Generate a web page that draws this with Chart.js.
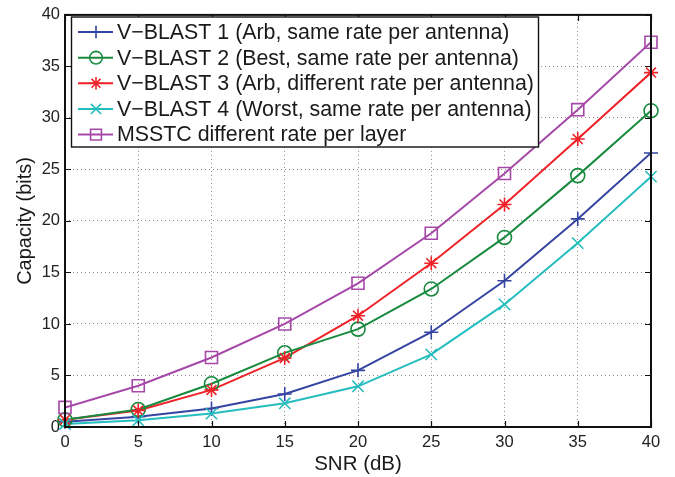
<!DOCTYPE html>
<html><head><meta charset="utf-8">
<script src="https://cdn.jsdelivr.net/npm/chart.js@4.4.1/dist/chart.umd.min.js"></script>
<style>html,body{margin:0;padding:0;background:#fff}canvas{display:block}</style>
</head><body>
<canvas id="c" width="675" height="477"></canvas>
<script>
const snr = [0, 5, 10, 15, 20, 25, 30, 35, 40];
const vblast1 = [0.5, 1.0, 1.8, 3.2, 5.5, 9.2, 14.2, 20.2, 26.6];
const vblast2 = [0.7, 1.7, 4.2, 7.2, 9.5, 13.4, 18.4, 24.4, 30.7];
const vblast3 = [0.7, 1.6, 3.6, 6.7, 10.8, 15.9, 21.6, 27.95, 34.4];
const vblast4 = [0.3, 0.65, 1.3, 2.3, 3.95, 7.05, 11.9, 17.85, 24.3];
const msstc = [1.9, 4.0, 6.75, 10.0, 13.95, 18.8, 24.6, 30.8, 37.35];
const seriesNames = [
  "V\u2212BLAST 1 (Arb, same rate per antenna)",
  "V\u2212BLAST 2 (Best, same rate per antenna)",
  "V\u2212BLAST 3 (Arb, different rate per antenna)",
  "V\u2212BLAST 4 (Worst, same rate per antenna)",
  "MSSTC different rate per layer"
];
const xTickValues = [0, 5, 10, 15, 20, 25, 30, 35, 40];
const yTickValues = [0, 5, 10, 15, 20, 25, 30, 35, 40];

const colors = ['#3444A0', '#178A3E', '#EE2228', '#25BDBE', '#A548A8'];
const styles = ['cross', 'circle', 'star', 'crossRot', 'rect'];
const radii = [7, 7, 7, 8, 8.5];
const seriesValues = [vblast1, vblast2, vblast3, vblast4, msstc];

const FONT = "'Liberation Sans', Arial, Helvetica, sans-serif";

function drawMarker(ctx, style, r, x, y, color) {
  ctx.save();
  ctx.strokeStyle = color; ctx.lineWidth = 1.6;
  ctx.beginPath();
  const d = r * Math.SQRT1_2;
  if (style === 'cross' || style === 'star') {
    ctx.moveTo(x - r, y); ctx.lineTo(x + r, y);
    ctx.moveTo(x, y - r); ctx.lineTo(x, y + r);
  }
  if (style === 'crossRot' || style === 'star') {
    ctx.moveTo(x - d, y - d); ctx.lineTo(x + d, y + d);
    ctx.moveTo(x - d, y + d); ctx.lineTo(x + d, y - d);
  }
  if (style === 'circle') ctx.arc(x, y, r, 0, Math.PI * 2);
  if (style === 'rect') ctx.rect(x - d, y - d, 2 * d, 2 * d);
  ctx.stroke();
  ctx.restore();
}

const framePlugin = {
  id: 'frame',
  afterDraw(chart) {
    const ctx = chart.ctx, a = chart.chartArea;
    const xs = chart.scales.x, ys = chart.scales.y;
    ctx.save();
    ctx.strokeStyle = '#111'; ctx.lineWidth = 1.2;
    const t = 6;
    ctx.beginPath();
    xTickValues.forEach(v => {
      const px = Math.round(xs.getPixelForValue(v)) + 0.5;
      ctx.moveTo(px, a.bottom); ctx.lineTo(px, a.bottom - t);
      ctx.moveTo(px, a.top); ctx.lineTo(px, a.top + t);
    });
    yTickValues.forEach(v => {
      const py = Math.round(ys.getPixelForValue(v)) + 0.5;
      ctx.moveTo(a.left, py); ctx.lineTo(a.left + t, py);
      ctx.moveTo(a.right, py); ctx.lineTo(a.right - t, py);
    });
    ctx.stroke();
    ctx.lineWidth = 2;
    ctx.strokeRect(a.left, a.top, a.right - a.left, a.bottom - a.top);
    // legend
    const lx = 71.5, ly = 17, lw = 467, lh = 130;
    ctx.fillStyle = '#fff';
    ctx.fillRect(lx, ly, lw, lh);
    ctx.lineWidth = 1.4; ctx.strokeStyle = '#111';
    ctx.strokeRect(lx, ly, lw, lh);
    ctx.font = "20px " + FONT;
    let maxW = 0;
    chart.data.datasets.forEach(ds => { maxW = Math.max(maxW, ctx.measureText(ds.label).width); });
    const fs = 20 * 417 / maxW;
    ctx.font = fs.toFixed(2) + "px " + FONT;
    ctx.textBaseline = 'middle';
    chart.data.datasets.forEach((ds, i) => {
      const y = 32 + i * 25.65;
      ctx.strokeStyle = ds.borderColor; ctx.lineWidth = 2;
      ctx.beginPath(); ctx.moveTo(78, y); ctx.lineTo(113, y); ctx.stroke();
      drawMarker(ctx, styles[i], radii[i] * 0.9, 96, y, ds.borderColor);
      ctx.fillStyle = '#1a1a1a';
      ctx.fillText(ds.label, 117, y + 1);
    });
    ctx.restore();
  }
};

const markerPlugin = {
  id: 'markers',
  afterDatasetsDraw(chart) {
    const ctx = chart.ctx;
    chart.data.datasets.forEach((ds, i) => {
      const meta = chart.getDatasetMeta(i);
      meta.data.forEach(pt => drawMarker(ctx, styles[i], radii[i], pt.x, pt.y, ds.borderColor));
    });
  }
};

const datasets = seriesValues.map((vals, i) => ({
  label: seriesNames[i],
  data: snr.map((x, k) => ({ x: x, y: vals[k] })),
  borderColor: colors[i],
  backgroundColor: colors[i],
  borderWidth: 2,
  pointRadius: 0,
  tension: 0,
  fill: false
}));

new Chart(document.getElementById('c'), {
  type: 'line',
  data: { datasets },
  options: {
    responsive: false,
    animation: false,
    events: [],
    layout: { padding: { top: 11, right: 24, left: 0, bottom: 0 } },
    plugins: { legend: { display: false }, tooltip: { enabled: false } },
    scales: {
      x: {
        type: 'linear', min: 0, max: 40,
        afterFit(s) { s.height = 50; },
        afterBuildTicks(s) { s.ticks = xTickValues.map(v => ({ value: v })); },
        ticks: { font: { family: FONT, size: 16.5 }, color: '#222', padding: 6, maxRotation: 0 },
        grid: { color: '#8a8a8a', lineWidth: 1, drawTicks: false },
        border: { display: false, dash: [1, 3] },
        title: { display: true, text: 'SNR (dB)', font: { family: FONT, size: 20.5 }, color: '#1a1a1a', padding: { top: 0, bottom: 0 } }
      },
      y: {
        type: 'linear', min: 0, max: 40,
        afterFit(s) { s.width = 65; },
        afterBuildTicks(s) { s.ticks = yTickValues.map(v => ({ value: v })); },
        ticks: { font: { family: FONT, size: 16.5 }, color: '#222', padding: 5 },
        grid: { color: '#8a8a8a', lineWidth: 1, drawTicks: false },
        border: { display: false, dash: [1, 3] },
        title: { display: true, text: 'Capacity (bits)', font: { family: FONT, size: 20 }, color: '#1a1a1a', padding: { top: 13, bottom: 0 } }
      }
    }
  },
  plugins: [markerPlugin, framePlugin]
});
</script>
</body></html>
